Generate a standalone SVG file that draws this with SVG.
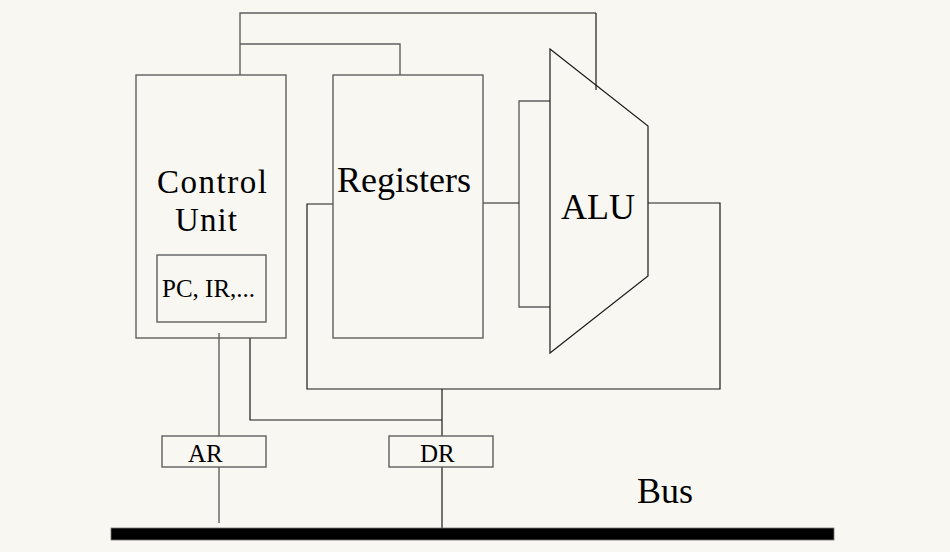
<svg xmlns="http://www.w3.org/2000/svg" width="950" height="552" viewBox="0 0 950 552">
<style>
.g{fill:none;stroke:#5f5f5f;stroke-width:1.4}
.k{fill:none;stroke:#1a1a1a;stroke-width:1.2}
.big{font-family:"Liberation Serif","Times New Roman",serif;font-size:36px;fill:#000}
.cu{font-family:"Liberation Serif","Times New Roman",serif;font-size:33px;fill:#000}
.sm{font-family:"Liberation Serif","Times New Roman",serif;font-size:25px;fill:#000}
</style>
<rect width="950" height="552" fill="#f8f7f1"/>
<g id="connectors">
<polyline class="g" points="240,75 240,13 596,13"/>
<polyline class="k" points="596,13 596,90"/>
<polyline class="g" points="240,44 400,44 400,75"/>
<polyline class="g" points="550,101 519,101 519,307 550,307"/>
<line class="k" x1="483" y1="203" x2="519" y2="203"/>
<polyline class="k" points="648,203 720,203 720,389 307,389 307,204 333,204"/>
<polyline class="k" points="250,338 250,420 442,420"/>
<line class="k" x1="442" y1="389" x2="442" y2="436"/>
<line class="k" x1="442" y1="467" x2="442" y2="528"/>
<line class="g" x1="219" y1="333" x2="219" y2="436"/>
<line class="g" x1="219" y1="467" x2="219" y2="523"/>
</g>
<g id="control-unit">
<rect class="g" x="136" y="75" width="150" height="263"/>
<text class="cu" x="157" y="193" textLength="110" lengthAdjust="spacing">Control</text>
<text class="cu" x="175" y="230.5" textLength="62" lengthAdjust="spacing">Unit</text>
</g>
<g id="pc-ir">
<rect class="g" x="157" y="255" width="109" height="67"/>
<text class="sm" x="162" y="297">PC, IR,...</text>
</g>
<g id="registers">
<rect class="g" x="333" y="75" width="150" height="263"/>
<text class="big" x="337" y="192">Registers</text>
</g>
<g id="alu">
<polygon class="k" points="550,49 648,126 648,276 550,353"/>
<text class="big" x="561" y="219">ALU</text>
</g>
<g id="ar">
<rect class="g" x="162" y="436" width="104" height="31"/>
<text class="sm" x="188" y="462">AR</text>
</g>
<g id="dr">
<rect class="g" x="389" y="436" width="104" height="31"/>
<text class="sm" x="420" y="462">DR</text>
</g>
<g id="bus">
<rect x="111" y="528" width="723" height="12" fill="#000" stroke="#777" stroke-width="0.8"/>
<text class="big" x="637" y="503">Bus</text>
</g>
</svg>
